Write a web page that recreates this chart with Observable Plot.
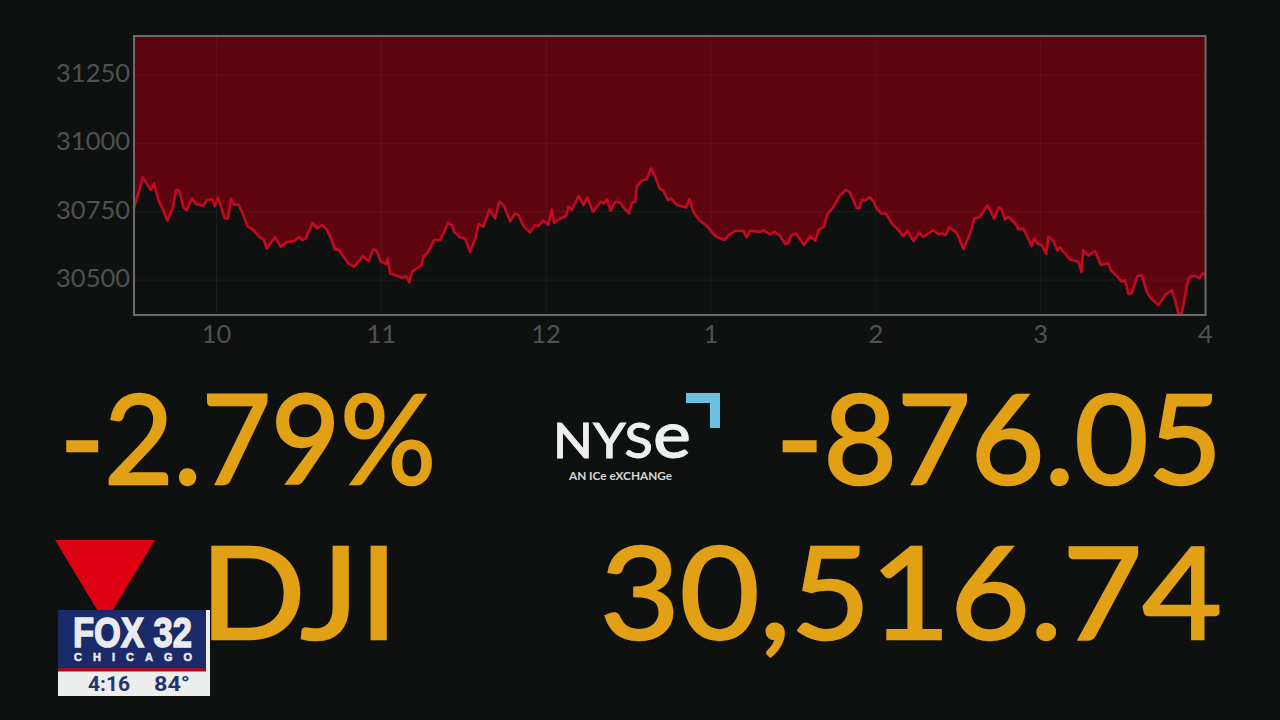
<!DOCTYPE html>
<html>
<head>
<meta charset="utf-8">
<script src="https://cdn.jsdelivr.net/npm/d3@7"></script>
<script src="https://cdn.jsdelivr.net/npm/@observablehq/plot@0.6"></script>
<style>
html,body{margin:0;padding:0;background:#0f1110;width:1280px;height:720px;overflow:hidden}
#wrap{position:relative;width:1280px;height:720px}
#chart{position:absolute;left:0;top:0}
#over{position:absolute;left:0;top:0}
</style>
</head>
<body>
<div id="wrap"><div id="chart"></div>
<svg id="over" width="1280" height="720" viewBox="0 0 1280 720" xmlns="http://www.w3.org/2000/svg">
  <g font-family="Lato" fill="#e2a115" stroke="#e2a115" stroke-width="2.5" font-weight="400">
    <text x="60" y="484" font-size="125" textLength="376" lengthAdjust="spacingAndGlyphs">-2.79%</text>
    <text x="776" y="484" font-size="125" textLength="446" lengthAdjust="spacingAndGlyphs">-876.05</text>
    <text x="200" y="639" font-size="128" textLength="198" lengthAdjust="spacingAndGlyphs">DJI</text>
    <text x="600" y="639" font-size="128" textLength="622" lengthAdjust="spacingAndGlyphs">30,516.74</text>
  </g>
  <polygon points="55,540 155,540 105,623" fill="#dc0010"/>
  <g>
    <text x="553" y="458" font-family="Lato" font-size="48" font-weight="500" fill="#eef0ee" stroke="#eef0ee" stroke-width="0.8" textLength="138" lengthAdjust="spacingAndGlyphs">NYS<tspan font-size="66">e</tspan></text>
    <text x="569" y="480" font-family="Lato" font-size="11" font-weight="700" fill="#d6d8d6" textLength="103" lengthAdjust="spacingAndGlyphs">AN ICe eXCHANGe</text>
    <polygon points="686,393 720,393 720,428 710,428 710,403 686,403" fill="#6bbfe0"/>
  </g>
  <g>
    <rect x="58" y="610" width="152" height="86" fill="#eceded"/>
    <rect x="58" y="610" width="148" height="58" fill="#1b2a68"/>
    <rect x="58" y="668" width="148" height="3.5" fill="#a50d1f"/>
    <text x="73" y="647" font-family="Liberation Sans" font-weight="700" font-size="43" fill="#ebebeb" stroke="#ebebeb" stroke-width="1.6" textLength="119" lengthAdjust="spacingAndGlyphs">FOX 32</text>
    <text x="74" y="661" font-family="Liberation Sans" font-weight="700" font-size="11" fill="#ebebeb" stroke="#ebebeb" stroke-width="0.5" textLength="118">CHICAGO</text>
    <text x="88" y="691" font-family="Roboto" font-weight="700" font-size="20" fill="#26346c" textLength="42" lengthAdjust="spacingAndGlyphs">4:16</text>
    <text x="154" y="691" font-family="Roboto" font-weight="700" font-size="20" fill="#26346c" textLength="36" lengthAdjust="spacingAndGlyphs">84°</text>
  </g>
</svg>
</div>
<script>
const minutes = [0,1.6,3.2,4.6,6.1,7.3,8.9,10.4,12.1,14.1,15.3,16.5,18,19.2,21.1,22.6,24,25.2,26.5,28.6,29.4,30.6,33,34.2,35.3,36.4,38,39.6,41.3,43.4,45.3,47.3,48.3,51.3,53.4,55.6,58.3,60.1,61.3,62.5,65,66.7,68.3,70.1,71.7,73.1,74.4,76.2,78,80.1,83.3,85.4,87.1,88.3,89.8,91.7,92.4,93.2,96.2,97.5,99,100.2,101.2,104.7,105.3,106.9,109.2,111.4,114.4,115.7,116.5,118.7,120.5,122.3,124.2,125.4,127.2,129.4,
131.4,133,134.5,136.9,138.7,140,141.7,144.2,146,147.2,149,150.8,152.1,152.9,155.1,157.3,158.1,159.3,161.8,163.6,165,167,169.9,171.1,172.1,173.5,175.1,177,178.4,180.2,181.2,182.4,183,184.8,186.6,188.2,189.7,191.3,192.7,194.3,195.4,197.6,200,201,202.2,203.6,205.5,208.5,211.5,214.9,216.4,218.8,221.8,223,224.3,227.9,229.1,231.5,233.1,235.2,237,238.2,239.1,240.9,243.9,246.1,248,249.1,251.2,252.2,254.6,257,259.1,
260.6,261.8,263,264,264.9,266.1,267.6,269.1,270.1,272.1,273.7,275.8,278.2,280,281.5,283.7,285.8,287.3,290.9,292.8,294.3,295.4,296.6,299.4,301.9,304.3,305.9,307.9,310.7,313,314.8,315.8,317,318.2,321,321.9,323.7,326.7,327.6,329.2,330.4,332,332.8,334.4,336.1,337,340.7,343.7,344.9,345.5,347.4,349.8,351.9,354.7,355.5,357.7,359.5,360.7,361.9,363.1,365.2,366.8,368.4,369.8,372.9,375.3,377.7,378.9,380.1,381.4,383.8,385,386.2,387.8,389,390];
const prices = [30758,30809,30868,30846,30822,30846,30785,30755,30710,30755,30822,30819,30758,30748,30791,30770,30767,30763,30785,30788,30763,30795,30718,30718,30791,30767,30769,30736,30690,30675,30653,30639,30608,30649,30615,30632,30635,30651,30639,30645,30702,30681,30694,30678,30645,30605,30605,30578,30554,30542,30580,30562,30605,30600,30560,30551,30572,30517,30507,30501,30507,30484,30523,30548,30578,30593,30639,30639,30702,30694,30669,30649,30645,30596,30645,30697,30688,30751,
30718,30779,30767,30708,30736,30730,30690,30667,30694,30690,30710,30694,30751,30702,30718,30727,30761,30748,30800,30767,30795,30742,30779,30773,30788,30746,30779,30775,30755,30736,30773,30779,30834,30856,30861,30901,30870,30828,30819,30785,30791,30767,30761,30758,30788,30742,30714,30690,30654,30639,30657,30673,30672,30649,30673,30669,30675,30660,30669,30654,30624,30627,30654,30663,30621,30654,30636,30675,30688,30730,30761,30803,30822,
30812,30785,30755,30755,30785,30783,30795,30783,30757,30736,30736,30700,30675,30653,30673,30635,30666,30651,30675,30660,30663,30657,30685,30666,30606,30663,30718,30724,30767,30718,30758,30751,30714,30724,30697,30678,30681,30617,30645,30624,30621,30588,30651,30639,30602,30612,30568,30560,30523,30602,30582,30600,30548,30554,30529,30507,30487,30493,30442,30444,30507,30511,30456,30429,30401,30438,30456,30420,30371,30373,30499,30507,30507,30499,30517,30515];
const xTicks = [30,90,150,210,270,330,390];
const xLabels = ["10","11","12","1","2","3","4"];
const yTicks = [30500,30750,31000,31250];
const xDomain = [0,390];
const yDomain = [30365,31385];

const rows = minutes.map((m,i)=>({m,p:prices[i]}));
const labelOf = new Map(xTicks.map((t,i)=>[t,xLabels[i]]));
const tickColor = "#4e5153";
const plot = Plot.plot({
  width:1280, height:350,
  marginTop:35.5, marginBottom:35.5, marginLeft:133.5, marginRight:75,
  style:{background:"transparent", fontFamily:"Lato", fontSize:"26px", overflow:"visible"},
  x:{domain:xDomain, label:null},
  y:{domain:yDomain, label:null},
  marks:[
    Plot.areaY(rows,{x:"m", y1:"p", y2:()=>yDomain[1], fill:"#5e040e"}),
    Plot.gridY(yTicks,{stroke:"#fff", strokeOpacity:0.05, dy:2}),
    Plot.gridX(xTicks,{stroke:"#fff", strokeOpacity:0.05}),
    Plot.line(rows,{x:"m", y:"p", stroke:"#c30a22", strokeWidth:2.6}),
    Plot.frame({stroke:"#6a6b6b", strokeWidth:2}),
    Plot.axisY({ticks:yTicks, tickSize:0, tickPadding:4, tickFormat:d=>String(d), color:tickColor, fontSize:25.5, dy:1}),
    Plot.axisX({ticks:xTicks, tickSize:0, tickPadding:10, tickFormat:d=>labelOf.get(d), color:tickColor, fontSize:25.5})
  ]
});
document.getElementById("chart").append(plot);
</script>
</body>
</html>
